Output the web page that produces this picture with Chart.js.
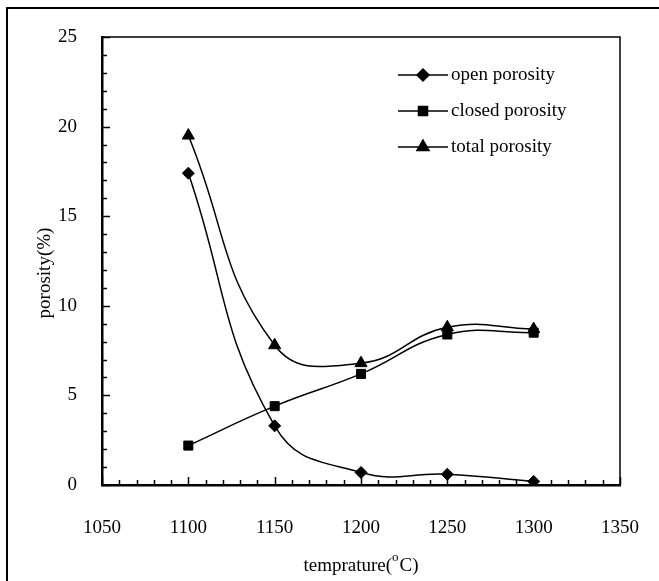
<!DOCTYPE html>
<html>
<head>
<meta charset="utf-8">
<script src="https://cdn.jsdelivr.net/npm/chart.js@4.4.1/dist/chart.umd.min.js"></script>
<style>
  html, body { margin: 0; padding: 0; background: #fff; }
  #wrap { position: relative; width: 659px; height: 581px; }
</style>
</head>
<body>
<div id="wrap"><canvas id="porosityChart"></canvas></div>
<script>
// porosity vs sintering temperature
const temps = [1100, 1150, 1200, 1250, 1300];
const openPorosity = [17.4, 3.3, 0.7, 0.6, 0.2];
const closedPorosity = [2.2, 4.4, 6.2, 8.4, 8.5];
const totalPorosity = [19.5, 7.8, 6.8, 8.8, 8.7];
const seriesNames = ['open porosity', 'closed porosity', 'total porosity'];
const xTicks = [1050, 1100, 1150, 1200, 1250, 1300, 1350];
const yTicks = [0, 5, 10, 15, 20, 25];

const SERIF = '"Liberation Serif", "Times New Roman", serif';

function toPoints(vals) {
  return temps.map(function (t, i) { return { x: t, y: vals[i] }; });
}

const markers = [
  { style: 'rectRot', radius: 6 },
  { style: 'rect', radius: 6.4 },
  { style: 'triangle', radius: 7 }
];

// frame, inward ticks, box, legend and axis titles
const decorPlugin = {
  id: 'decor',
  afterDraw(chart) {
    const ctx = chart.ctx;
    const area = chart.chartArea;
    const xs = chart.scales.x, ys = chart.scales.y;
    ctx.save();
    ctx.strokeStyle = '#000';
    ctx.fillStyle = '#000';

    // outer frame (top + left only)
    ctx.lineWidth = 2;
    ctx.beginPath();
    ctx.moveTo(7, 581);
    ctx.lineTo(7, 8);
    ctx.lineTo(659, 8);
    ctx.stroke();

    // top and right of plot box
    ctx.lineWidth = 1.5;
    ctx.beginPath();
    ctx.moveTo(area.left, area.top);
    ctx.lineTo(area.right, area.top);
    ctx.lineTo(area.right, area.bottom);
    ctx.stroke();

    // ticks pointing inward
    ctx.lineWidth = 1.5;
    ctx.beginPath();
    for (let v = 0; v <= 25; v += 1) {
      const y = Math.round(ys.getPixelForValue(v)) + 0.5;
      const len = v % 5 === 0 ? 8 : 5;
      ctx.moveTo(area.left, y);
      ctx.lineTo(area.left + len, y);
    }
    for (let v = 1050; v <= 1350; v += 10) {
      const x = Math.round(xs.getPixelForValue(v)) + 0.5;
      const len = v % 50 === 0 ? 8 : 5;
      ctx.moveTo(x, area.bottom);
      ctx.lineTo(x, area.bottom - len);
    }
    ctx.stroke();

    // legend
    ctx.font = '19px ' + SERIF;
    ctx.textAlign = 'left';
    ctx.textBaseline = 'middle';
    const lx0 = 398, lx1 = 448, ly = [75, 111, 147];
    seriesNames.forEach(function (name, i) {
      ctx.lineWidth = 1.5;
      ctx.beginPath();
      ctx.moveTo(lx0, ly[i]);
      ctx.lineTo(lx1, ly[i]);
      ctx.stroke();
      Chart.helpers.drawPoint(ctx, {
        pointStyle: markers[i].style, radius: markers[i].radius,
        rotation: 0, borderWidth: 1
      }, (lx0 + lx1) / 2, ly[i]);
      ctx.fill();
      ctx.fillText(name, 451, ly[i]);
    });

    // y title
    ctx.save();
    ctx.translate(45, (area.top + area.bottom) / 2 + 12);
    ctx.rotate(-Math.PI / 2);
    ctx.textAlign = 'center';
    ctx.font = '19px ' + SERIF;
    ctx.fillText('porosity(%)', 0, 0);
    ctx.restore();

    // x title with superscript
    const cx = (area.left + area.right) / 2;
    const ty = 566;
    const a = 'temprature(', b = 'o', c = 'C)';
    ctx.font = '19px ' + SERIF;
    const wa = ctx.measureText(a).width, wc = ctx.measureText(c).width;
    ctx.font = '13px ' + SERIF;
    const wb = ctx.measureText(b).width + 1;
    let x = cx - (wa + wb + wc) / 2;
    ctx.font = '19px ' + SERIF;
    ctx.fillText(a, x, ty);
    ctx.font = '13px ' + SERIF;
    ctx.fillText(b, x + wa, ty - 8);
    ctx.font = '19px ' + SERIF;
    ctx.fillText(c, x + wa + wb, ty);
    ctx.restore();
  }
};

function makeSet(label, vals, m) {
  return {
    label: label,
    data: toPoints(vals),
    showLine: true,
    borderColor: '#000',
    backgroundColor: '#000',
    borderWidth: 1.5,
    tension: 0.45,
    pointStyle: m.style,
    pointRadius: m.radius,
    pointHoverRadius: m.radius,
    pointBorderWidth: 1
  };
}

new Chart(document.getElementById('porosityChart'), {
  type: 'scatter',
  data: {
    datasets: [
      makeSet(seriesNames[0], openPorosity, markers[0]),
      makeSet(seriesNames[1], closedPorosity, markers[1]),
      makeSet(seriesNames[2], totalPorosity, markers[2])
    ]
  },
  options: {
    responsive: true,
    maintainAspectRatio: false,
    animation: false,
    layout: { padding: { top: 37, right: 39, left: 0, bottom: 0 } },
    plugins: { legend: { display: false }, tooltip: { enabled: false } },
    scales: {
      x: {
        type: 'linear',
        min: 1050, max: 1350,
        afterBuildTicks: function (s) { s.ticks = xTicks.map(function (v) { return { value: v }; }); },
        afterFit: function (s) { s.height = 96; s.paddingLeft = 0; s.paddingRight = 0; },
        grid: { display: false },
        border: { display: true, color: '#000', width: 2.5 },
        ticks: {
          color: '#000', font: { family: SERIF, size: 19 }, padding: 24, maxRotation: 0,
          callback: function (v) { return String(v); }
        }
      },
      y: {
        min: 0, max: 25,
        afterBuildTicks: function (s) { s.ticks = yTicks.map(function (v) { return { value: v }; }); },
        afterFit: function (s) { s.width = 102; },
        grid: { display: false },
        border: { display: true, color: '#000', width: 2.5 },
        ticks: { color: '#000', font: { family: SERIF, size: 19 }, padding: 17 }
      }
    }
  },
  plugins: [decorPlugin]
});
</script>
</body>
</html>
